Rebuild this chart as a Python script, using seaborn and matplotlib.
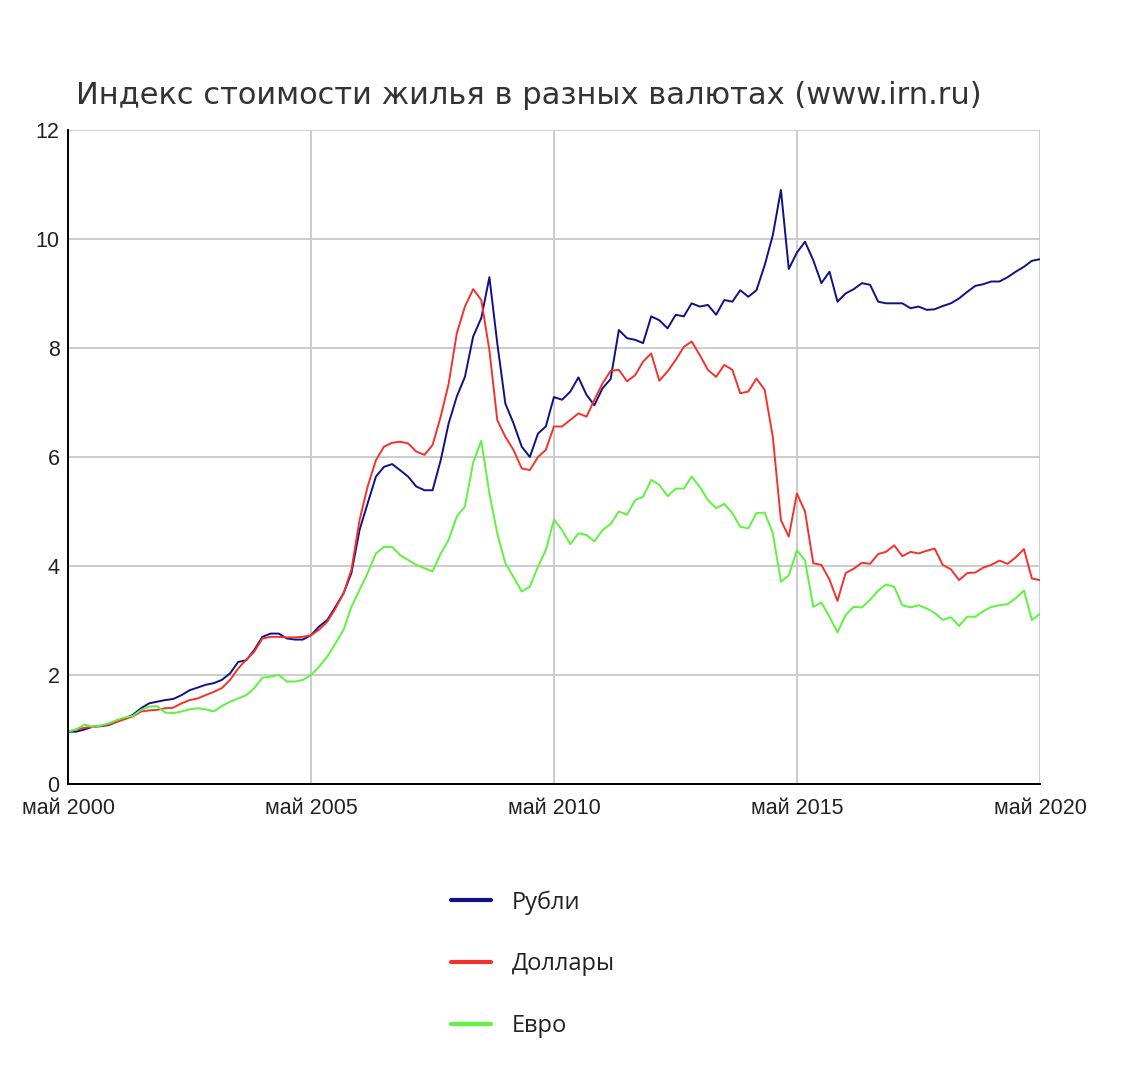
import matplotlib
matplotlib.use('Agg')
import matplotlib.pyplot as plt
import pandas as pd
import seaborn as sns

# Bimonthly readings, May 2000 .. May 2020
dates = pd.date_range('2000-05-01', periods=121, freq='2MS')

rubles = [
    0.96, 0.96, 1.0, 1.05, 1.06, 1.08, 1.14, 1.2, 1.27, 1.39, 1.48, 1.51, 1.54, 1.56, 1.63, 1.72,
    1.77, 1.82, 1.85, 1.91, 2.03, 2.24, 2.27, 2.46, 2.70, 2.76, 2.76, 2.67, 2.65, 2.65, 2.73,
    2.89, 3.01, 3.25, 3.50, 3.87, 4.66, 5.15, 5.64, 5.82, 5.87, 5.76, 5.64, 5.46, 5.39, 5.39,
    5.94, 6.62, 7.11, 7.47, 8.21, 8.55, 9.3, 8.09, 6.98, 6.62, 6.19, 6.0, 6.43, 6.56, 7.1,
    7.05, 7.20, 7.46, 7.14, 6.95, 7.26, 7.43, 8.33, 8.18, 8.15, 8.09, 8.58, 8.51, 8.36, 8.61,
    8.58, 8.82, 8.76, 8.79, 8.61, 8.88, 8.85, 9.06, 8.94, 9.06, 9.52, 10.07, 10.9, 9.45, 9.75,
    9.95, 9.61, 9.19, 9.40, 8.85, 9.0, 9.08, 9.19, 9.16, 8.85, 8.82, 8.82, 8.82, 8.73, 8.76,
    8.70, 8.71, 8.77, 8.82, 8.91, 9.03, 9.14, 9.17, 9.22, 9.22, 9.30, 9.40, 9.49, 9.60, 9.63,
]
dollars = [
    0.96, 1.0, 1.03, 1.05, 1.07, 1.09, 1.14, 1.19, 1.24, 1.33, 1.35, 1.36, 1.39, 1.40, 1.48, 1.54,
    1.57, 1.63, 1.69, 1.76, 1.91, 2.12, 2.28, 2.43, 2.67, 2.70, 2.70, 2.69, 2.69, 2.70, 2.73,
    2.83, 2.98, 3.22, 3.50, 3.93, 4.84, 5.46, 5.94, 6.19, 6.26, 6.28, 6.25, 6.10, 6.04, 6.22,
    6.74, 7.35, 8.27, 8.76, 9.08, 8.88, 7.96, 6.68, 6.37, 6.13, 5.79, 5.76, 6.0, 6.13, 6.56,
    6.56, 6.68, 6.80, 6.74, 7.05, 7.35, 7.58, 7.60, 7.39, 7.50, 7.75, 7.90, 7.40, 7.57, 7.78,
    8.02, 8.12, 7.87, 7.60, 7.47, 7.69, 7.60, 7.17, 7.20, 7.44, 7.23, 6.37, 4.84, 4.54, 5.33,
    5.0, 4.05, 4.02, 3.75, 3.36, 3.87, 3.95, 4.06, 4.04, 4.22, 4.26, 4.38, 4.18, 4.26, 4.23,
    4.28, 4.32, 4.02, 3.94, 3.74, 3.87, 3.88, 3.97, 4.02, 4.10, 4.04, 4.16, 4.31, 3.77, 3.74,
]
euros = [
    0.96, 1.0, 1.09, 1.05, 1.07, 1.11, 1.17, 1.22, 1.25, 1.36, 1.42, 1.43, 1.31, 1.30, 1.33, 1.37,
    1.39, 1.37, 1.33, 1.43, 1.51, 1.57, 1.63, 1.76, 1.95, 1.97, 2.0, 1.88, 1.88, 1.91, 2.0,
    2.15, 2.34, 2.58, 2.83, 3.25, 3.56, 3.87, 4.23, 4.35, 4.35, 4.20, 4.11, 4.02, 3.96, 3.90,
    4.23, 4.48, 4.91, 5.09, 5.9, 6.3, 5.33, 4.60, 4.05, 3.80, 3.53, 3.62, 3.99, 4.29, 4.85,
    4.66, 4.4, 4.6, 4.57, 4.45, 4.66, 4.77, 5.0, 4.94, 5.21, 5.27, 5.58, 5.49, 5.28, 5.42,
    5.42, 5.64, 5.45, 5.21, 5.06, 5.14, 4.97, 4.72, 4.69, 4.97, 4.98, 4.60, 3.71, 3.83, 4.29,
    4.1, 3.25, 3.33, 3.07, 2.78, 3.10, 3.25, 3.24, 3.38, 3.55, 3.66, 3.62, 3.28, 3.24, 3.28,
    3.22, 3.14, 3.01, 3.06, 2.90, 3.07, 3.07, 3.17, 3.25, 3.28, 3.30, 3.41, 3.55, 3.01, 3.12,
]

series_names = ['Рубли', 'Доллары', 'Евро']
colors = {'Рубли': '#101088', 'Доллары': '#f4322c', 'Евро': '#5cf43c'}
year_labels = ['май 2000', 'май 2005', 'май 2010', 'май 2015', 'май 2020']

df = pd.DataFrame({'date': dates, 'Рубли': rubles, 'Доллары': dollars, 'Евро': euros})
df_long = df.melt(id_vars='date', var_name='Валюта', value_name='Индекс')

sns.set_theme(style='white')
plt.rcParams['font.family'] = ['DejaVu Sans']

fig = plt.figure(figsize=(11.25, 10.75), dpi=100)
ax = fig.add_axes([68 / 1125, 1 - 784 / 1075, 972 / 1125, 654 / 1075])

sns.lineplot(data=df_long, x='date', y='Индекс', hue='Валюта', hue_order=series_names,
             palette=colors, linewidth=1.4, ax=ax, legend=False)

start, end = pd.Timestamp('2000-05-01'), pd.Timestamp('2020-05-01')
ax.set_xlim(start, end)
ax.set_ylim(0, 12)

major_x = pd.date_range(start, end, freq='60MS')
minor_x = pd.date_range(start, end, freq='20MS')
ax.set_xticks(major_x)
ax.set_xticklabels(year_labels)
ax.set_xticks(minor_x, minor=True)
ax.set_yticks(range(0, 13, 2))
ax.set_yticks(range(1, 12, 2), minor=True)

for lab in ax.get_xticklabels() + ax.get_yticklabels():
    lab.set_family('Liberation Sans')
    lab.set_fontsize(15.5)
    lab.set_color('#222222')

ax.tick_params(axis='both', which='both', direction='in', color='black', width=1.2)
ax.tick_params(axis='x', which='major', length=10, pad=10)
ax.tick_params(axis='x', which='minor', length=7)
ax.tick_params(axis='y', which='major', length=8, pad=6)
ax.tick_params(axis='y', which='minor', length=6)

ax.grid(True, which='major', color='#cccccc', linewidth=1.4)
ax.set_axisbelow(True)
for side in ['top', 'right']:
    ax.spines[side].set_visible(False)
for side in ['left', 'bottom']:
    ax.spines[side].set_color('black')
    ax.spines[side].set_linewidth(1.4)
ax.set_xlabel('')
ax.set_ylabel('')

fig.text(76 / 1125, 1 - 96 / 1075, 'Индекс стоимости жилья в разных валютах (www.irn.ru)',
         fontsize=22, color='#333333', va='center', ha='left', family='DejaVu Sans')

handles = [plt.Line2D([], [], color=colors[n], linewidth=3) for n in series_names]
fig.legend(handles, series_names, loc='upper left', bbox_to_anchor=(430 / 1125, 1 - 869 / 1075),
           frameon=False, handlelength=1.7, handletextpad=0.85, labelspacing=1.6,
           prop={'family': 'Open Sans', 'size': 17}, labelcolor='#222222')

fig.savefig('out.png', dpi=100, facecolor='white')
